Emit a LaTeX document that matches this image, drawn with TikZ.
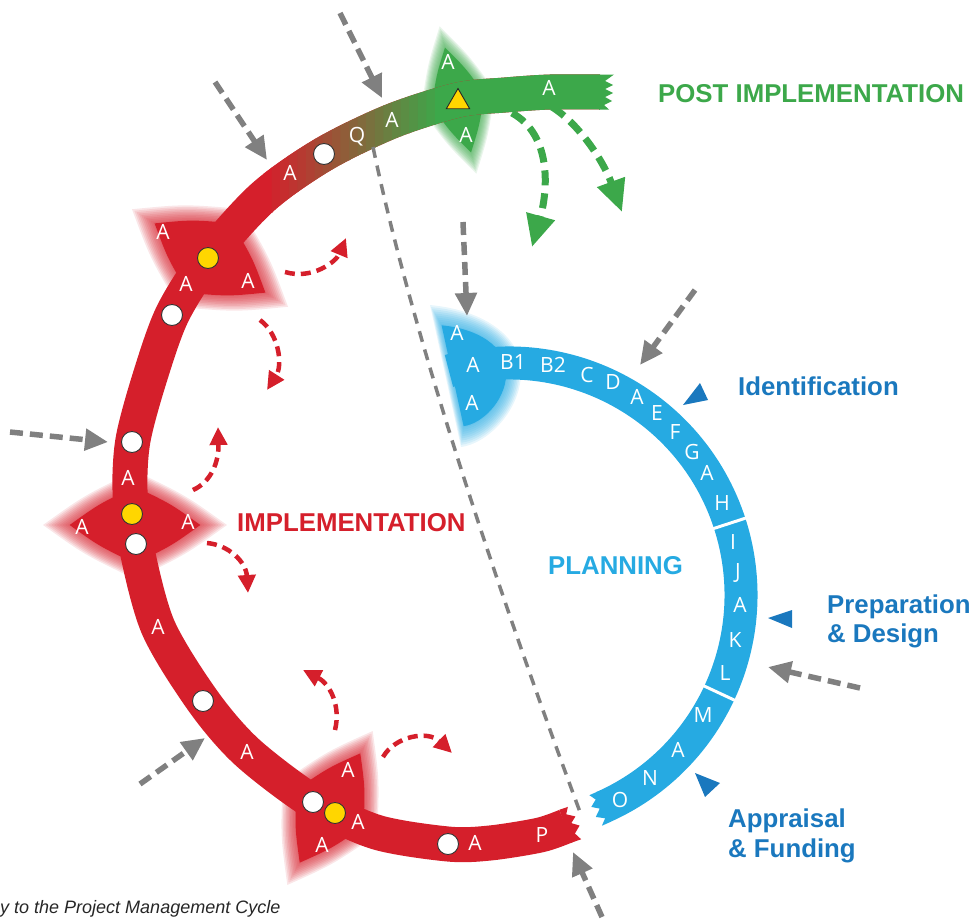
\documentclass[tikz,border=0pt]{standalone}
\usepackage{fontspec}
\setmainfont{Liberation Sans}
\newfontfamily\bandfont{Open Sans}
\usepackage{tikz}
\usetikzlibrary{arrows.meta, shapes.geometric}

\definecolor{cycred}{RGB}{213,31,43}
\definecolor{cycgreen}{RGB}{60,168,74}
\definecolor{cycblue}{RGB}{38,170,226}
\definecolor{cycdarkblue}{RGB}{26,120,190}
\definecolor{cycgray}{RGB}{128,128,128}
\definecolor{cycyellow}{RGB}{255,214,0}

% soft edged four point blob: centre, angle, half length, half width, colour
\newcommand{\fuzzyblob}[5]{%
  \begin{scope}[shift={#1}, rotate=#2]
    \foreach \s in {1.00,0.97,0.94,0.91,0.88,0.85,0.82,0.79,0.76,0.73}
      \fill[#5, opacity=0.11, scale=\s] (#3,0) .. controls (0.55*#3,0.55*#4) .. (0,#4)
        .. controls (-0.55*#3,0.55*#4) .. (-#3,0) .. controls (-0.55*#3,-0.55*#4) .. (0,-#4)
        .. controls (0.55*#3,-0.55*#4) .. (#3,0) -- cycle;
    \fill[#5, scale=0.71] (#3,0) .. controls (0.55*#3,0.55*#4) .. (0,#4)
        .. controls (-0.55*#3,0.55*#4) .. (-#3,0) .. controls (-0.55*#3,-0.55*#4) .. (0,-#4)
        .. controls (0.55*#3,-0.55*#4) .. (#3,0) -- cycle;
  \end{scope}}

\begin{document}
\begin{tikzpicture}[x=1pt, y=-1pt,
    band/.style={line width=35pt, line cap=butt},
    letter/.style={text=white, font=\bandfont\fontsize{21}{21}\selectfont, inner sep=0pt},
    heading/.style={font=\bfseries\fontsize{25.8}{30}\selectfont, inner sep=0pt, anchor=base west},
    whitedot/.style={circle, draw=black!80, line width=0.9pt, fill=white, minimum size=21pt, inner sep=0pt},
    yellowdot/.style={whitedot, fill=cycyellow},
    inflow/.style={cycgray, line width=5.5pt, dash pattern=on 13pt off 7pt, -{Triangle[length=23pt,width=21pt]}},
    loopback/.style={cycred, line width=4.5pt, dash pattern=on 10pt off 6pt, -{Triangle[length=18pt,width=17pt]}},
    feedback/.style={cycgreen, line width=7pt, dash pattern=on 15pt off 8pt, -{Triangle[length=32pt,width=28pt]}},
    cutline/.style={cycgray, line width=3.5pt, dash pattern=on 11pt off 8pt}]

\useasboundingbox (0,0) rectangle (971,919);

% blurred milestones
\fuzzyblob{(210,258)}{-32}{92}{58}{cycred}
\fuzzyblob{(135,525)}{0}{92}{54}{cycred}
\fuzzyblob{(330,808)}{61}{88}{54}{cycred}
\fuzzyblob{(458,100)}{-76}{76}{38}{cycgreen}
\begin{scope}[shift={(470,375)}]
  \foreach \s in {1.00,0.97,0.94,0.91,0.88,0.85,0.82,0.79,0.76,0.73}
    \fill[cycblue, opacity=0.11, scale=\s] (-40,-70) .. controls (22,-64) and (54,-32) .. (51,0)
      .. controls (49,38) and (16,69) .. (-9,72) -- cycle;
  \fill[cycblue, scale=0.71] (-40,-70) .. controls (22,-64) and (54,-32) .. (51,0)
      .. controls (49,38) and (16,69) .. (-9,72) -- cycle;
\end{scope}

% implementation loop
\draw[band, cycred] plot[smooth] coordinates {(566,826) (540,835) (490,843) (448,844) (376,832)
  (313,802) (247,752) (203,701) (158,627) (136,545) (130,490) (133,440) (149,380) (172,315)
  (208,258) (263,197) (324,154) (392,121) (458,100) (505,95) (550,92) (600,92)};
\foreach \i [evaluate=\i as \mix using int(5*\i)] in {0,...,19} {
  \begin{scope}
    \clip (263+8.6*\i,0) rectangle (272.5+8.6*\i,300);
    \draw[band, cycgreen!\mix!cycred] plot[smooth] coordinates {(172,315) (208,258) (263,197)
      (324,154) (392,121) (458,100) (505,95) (550,92) (600,92)};
  \end{scope}
}
\begin{scope}
  \clip (435,0) rectangle (640,300);
  \draw[band, cycgreen] plot[smooth] coordinates {(172,315) (208,258) (263,197)
    (324,154) (392,121) (458,100) (505,95) (550,92) (600,92)};
\end{scope}
\begin{scope}[shift={(600,92)}]
  \fill[cycgreen] (-1,-17.5) -- (14,-17.5) -- (5,-11) -- (13,-7) -- (5,-3) -- (13,1) -- (5,5)
    -- (12,9) -- (4,13) -- (9,17.5) -- (-1,17.5) -- cycle;
\end{scope}
\begin{scope}[shift={(566,826)}, rotate=19]
  \fill[cycred] (-1,-17.5) -- (8,-17.5) -- (4,-11) -- (12,-6) -- (6,-1) -- (13,4) -- (6,10)
    -- (10,17.5) -- (-1,17.5) -- cycle;
\end{scope}

% planning arc
\draw[band, line width=33pt, cycblue] (509,595) ++(255:232) arc[start angle=255, end angle=426, radius=232];
\foreach \a in {342,385}
  \draw[white, line width=3pt] (509,595) ++(\a:214) -- ++(\a:36);
\begin{scope}[shift={(603.4,807)}, rotate=-156]
  \fill[cycblue] (-1,-16.5) -- (9,-16.5) -- (3,-11) -- (11,-6) -- (4,0) -- (11,5) -- (4,10)
    -- (8,16.5) -- (-1,16.5) -- cycle;
\end{scope}

% dividing line
\coordinate (cutA) at (373,147);
\coordinate (cutB) at (580,812);
\draw[cutline] (cutA) .. controls (405,300) and (472,520) .. (cutB);

% milestones on the loop
\foreach \p [count=\i] in {{324,154}, {172,315}, {132,442}, {136,544}, {203,701}, {313,802}, {448,844}}
  \node[whitedot] (dot\i) at (\p) {};
\foreach \p [count=\i] in {{208,258}, {132,514}, {335,813}}
  \node[yellowdot] (gold\i) at (\p) {};
\node[regular polygon, regular polygon sides=3, draw=black!85, line width=0.9pt, fill=cycyellow,
  minimum size=27pt, inner sep=0pt] (review) at (458,102) {};

% letters on the loop
\foreach \t/\p [count=\i] in {A/{290,173}, Q/{357,137}, A/{392,120}, A/{163,232}, A/{186,284},
    A/{248,281}, A/{128,478}, A/{82,527}, A/{188,522}, A/{158,627}, A/{247,752}, A/{348,770},
    A/{358,822}, A/{322,845}, A/{475,843}, P/{542,835}, A/{448,62}, A/{466,135}, A/{549,88}}
  \node[letter] (imp\i) at (\p) {\t};
\foreach \t/\p [count=\i] in {A/{457,333}, A/{473,365}, A/{472,403}, B1/{513,362}, B2/{553,365},
    C/{587,375}, D/{613,382}, A/{637,397}, E/{657,413}, F/{675,432}, G/{692,452}, A/{707,473},
    H/{722,503}, I/{733,542}, J/{738,573}, A/{740,605}, K/{735,640}, L/{725,673}, M/{703,715},
    A/{678,750}, N/{650,778}, O/{620,800}}
  \node[letter] (pln\i) at (\p) {\t};

% inputs
\foreach \n/\p/\q in {1/{215,82}/{267,160}, 2/{340,13}/{382,98}, 3/{463,222}/{467,316},
    4/{695,290}/{640,365}, 5/{10,432}/{108,442}, 6/{140,784}/{205,738},
    7/{860,688}/{768,667}, 8/{602,917}/{573,852}} {
  \coordinate (in\n a) at (\p);
  \coordinate (in\n b) at (\q);
  \draw[inflow] (in\n a) -- (in\n b);
}

% loops back
\coordinate (r1a) at (285,272); \coordinate (r1b) at (346,238);
\coordinate (r2a) at (260,320); \coordinate (r2b) at (267,390);
\coordinate (r3a) at (193,490); \coordinate (r3b) at (218,427);
\coordinate (r4a) at (207,543); \coordinate (r4b) at (248,593);
\coordinate (r5a) at (335,730); \coordinate (r5b) at (303,670);
\coordinate (r6a) at (383,757); \coordinate (r6b) at (452,753);
\draw[loopback] (r1a) .. controls (312,280) and (336,262) .. (r1b);
\draw[loopback] (r2a) .. controls (279,334) and (283,365) .. (r2b);
\draw[loopback] (r3a) .. controls (211,482) and (219,462) .. (r3b);
\draw[loopback] (r4a) .. controls (229,545) and (246,562) .. (r4b);
\draw[loopback] (r5a) .. controls (341,706) and (330,684) .. (r5b);
\draw[loopback] (r6a) .. controls (395,736) and (428,730) .. (r6b);

\coordinate (f1a) at (512,113); \coordinate (f1b) at (532,247);
\coordinate (f2a) at (552,107); \coordinate (f2b) at (622,212);
\draw[feedback] (f1a) .. controls (552,135) and (548,190) .. (f1b);
\draw[feedback] (f2a) .. controls (578,123) and (603,160) .. (f2b);

% stage markers
\fill[cycdarkblue] (700,383) -- (708,400) -- (683,405) -- cycle;
\fill[cycdarkblue] (768,618) -- (792,610) -- (792,628) -- cycle;
\fill[cycdarkblue] (695,773) -- (720,783) -- (705,797) -- cycle;

% labels
\node[heading, text=cycgreen] (post) at (658,102) {POST IMPLEMENTATION};
\node[heading, text=cycred] (impl) at (237,531) {IMPLEMENTATION};
\node[heading, text=cycblue] (plan) at (548,574) {PLANNING};
\node[heading, text=cycdarkblue] (ident) at (738,395) {Identification};
\node[heading, text=cycdarkblue] (prep) at (827,613) {Preparation};
\node[heading, text=cycdarkblue] (design) at (827,642) {\& Design};
\node[heading, text=cycdarkblue] (appr) at (728,827) {Appraisal};
\node[heading, text=cycdarkblue] (fund) at (728,857) {\& Funding};
\node[font=\itshape\fontsize{18}{20}\selectfont, text=black!85, inner sep=0pt, anchor=base west]
  (caption) at (0,913) {y to the Project Management Cycle};
\end{tikzpicture}
\end{document}
